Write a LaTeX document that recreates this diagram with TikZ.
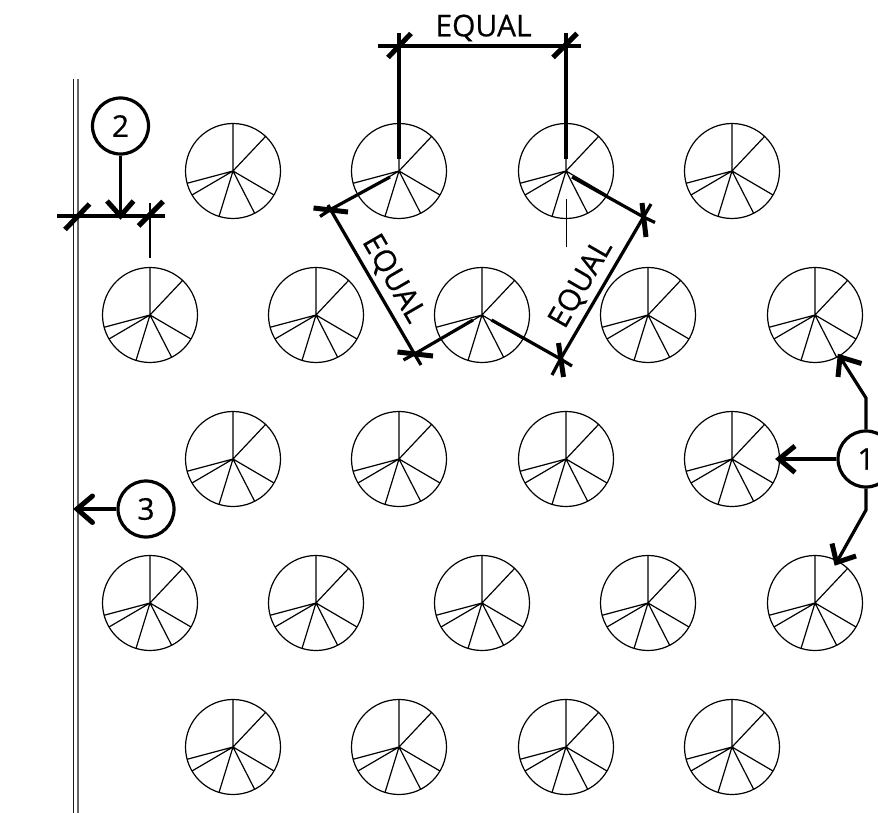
\documentclass[tikz,border=0pt]{standalone}
\usepackage{fontspec}
\setmainfont{Open Sans}
\newfontfamily\cadfont{Open Sans}[FakeBold=0.5]
\begin{document}
\begin{tikzpicture}[x=1pt,y=-1pt,
  thinl/.style={line width=1.2pt,black},
  dimline/.style={line width=3.2pt,black},
  extline/.style={line width=2.6pt,black},
  tick/.style={line width=5pt,black},
  tag/.style={circle,draw,line width=3.2pt,minimum size=56pt,inner sep=0pt,font=\fontsize{30}{30}\cadfont},
  eq/.style={font=\fontsize{30}{30}\cadfont,inner sep=0pt},
  pie/.pic={
    \draw[thinl] (0,0) circle (47.5);
    \draw[thinl] (0,-47.5)--(0,0)--(33,-35) (0,0)--(41,24) (0,0)--(21.5,42) (0,0)--(-14,45.5) (0,0)--(-41,24) (0,0)--(-46,12.3);
  }]
\useasboundingbox (0,0) rectangle (878,813);
\clip (0,0) rectangle (878,813);
\foreach \x in {233,399,566,732} \foreach \y in {171,459,747} \pic at (\x,\y) {pie};
\foreach \x in {150,316,482,648,815} \foreach \y in {315,603} \pic at (\x,\y) {pie};
% wall
\draw[line width=1.3pt,black!90] (73.8,79)--(73.8,813);
\draw[line width=2pt,black!60] (77.8,79)--(77.8,813);
% tags
\node[tag] (t1) at (866,459) {1};
\node[tag] (t2) at (120.5,126) {2};
\node[tag] (t3) at (146,509) {3};
% top dimension
\coordinate (e1a) at (399,33); \coordinate (e1b) at (399,159);
\coordinate (e2a) at (566,33); \coordinate (e2b) at (566,159);
\coordinate (d1a) at (378,46); \coordinate (d1b) at (581,46);
\draw[dimline] (e1a)--(e1b);
\draw[dimline] (e2a)--(e2b);
\draw[dimline] (d1a)--(d1b);
\draw[tick] (388,57.5)--(411,33.5);
\draw[tick] (553,57.5)--(577,33.5);
\node[eq] (q1) at (483.5,28) {EQUAL};
% left
\coordinate (A) at (330.5,209.5); \coordinate (B) at (414.5,354);
\coordinate (C) at (560.5,359); \coordinate (D) at (643.5,217);
\draw[dimline] (390,177)--(A)--(320,216.5);
\draw[dimline] (328,205)--(A)--(B)--(421,365);
\draw[tick] (313.5,208)--(348,212);
\draw[dimline] (473,320)--(B)--(403.5,360);
\draw[tick] (397.5,352)--(433,356);
\draw[dimline] (491.5,320)--(C)--(572,366);
\draw[tick] (558.5,343)--(563.5,377);
\draw[dimline] (552,375)--(C)--(D)--(651,204);
\draw[dimline] (572,177)--(D)--(655,222.5);
\draw[tick] (642,203)--(646,237);
\node[eq,rotate=-60] (q2) at (393,279) {EQUAL};
\node[eq,rotate=60] (q3) at (581.5,284) {EQUAL};
\draw[line width=1pt,black] (566,199)--(566,247);
% tag 2
\coordinate (p2) at (120.5,216);
\draw[dimline] (t2.south)--(p2);
\draw[dimline] (57,216)--(165,216);
\draw[tick] (65,229.5)--(89.5,204);
\draw[tick] (138.5,226)--(163,201.5);
\draw[tick] (107,201)--(p2)--(133.5,201);
\draw[extline] (150,203)--(150,258);
% tag 3
\coordinate (p3) at (77,509);
\draw[dimline] (t3.west)--(p3);
\draw[tick,line cap=round] (92.5,496)--(p3)--(92.5,522.5);
% tag 1
\coordinate (p1a) at (840,357); \coordinate (p1b) at (779,459); \coordinate (p1c) at (836.5,562.5);
\draw[dimline] (t1.north)--(866,398)--(p1a);
\draw[tick] (861.5,363.5)--(p1a)--(838,377);
\draw[dimline] (t1.west)--(p1b);
\draw[tick] (795,446)--(p1b)--(795,472.5);
\draw[dimline] (t1.south)--(866,510)--(p1c);
\draw[tick] (856,556)--(p1c)--(832,543.5);
\end{tikzpicture}
\end{document}
